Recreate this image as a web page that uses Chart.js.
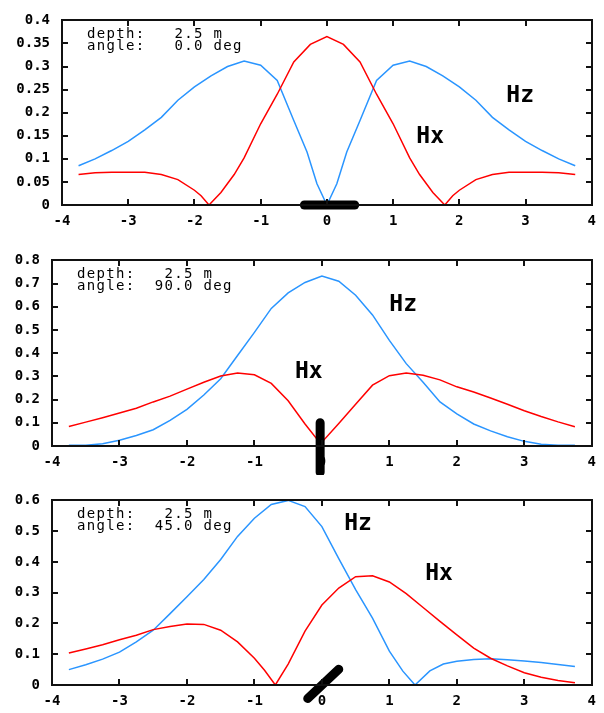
<!DOCTYPE html>
<html>
<head>
<meta charset="utf-8">
<script src="https://cdn.jsdelivr.net/npm/chart.js@4.4.1/dist/chart.umd.min.js"></script>
<style>
  html, body { margin: 0; padding: 0; background: #fff; }
  body { width: 604px; height: 713px; position: relative; overflow: hidden; }
  canvas { position: absolute; left: 0; }
</style>
</head>
<body>
<canvas id="p1" width="604" height="235" style="top:0px"></canvas>
<canvas id="p2" width="604" height="235" style="top:240px"></canvas>
<canvas id="p3" width="604" height="233" style="top:480px"></canvas>
<script>
// panel 1 — angle 0
const hxX1 = [-3.75, -3.5, -3.25, -3, -2.75, -2.5, -2.25, -2, -1.9, -1.78, -1.6, -1.4, -1.25, -1, -0.75, -0.5, -0.25, 0,
              0.25, 0.5, 0.75, 1, 1.25, 1.4, 1.6, 1.78, 1.9, 2, 2.25, 2.5, 2.75, 3, 3.25, 3.5, 3.75];
const hxY1 = [0.066, 0.070, 0.071, 0.071, 0.071, 0.066, 0.055, 0.032, 0.020, 0, 0.027, 0.066, 0.102, 0.176, 0.24, 0.31, 0.348, 0.365,
              0.348, 0.31, 0.24, 0.176, 0.102, 0.066, 0.027, 0, 0.020, 0.032, 0.055, 0.066, 0.071, 0.071, 0.071, 0.070, 0.066];
const hzX1 = [-3.75, -3.5, -3.25, -3, -2.75, -2.5, -2.25, -2, -1.75, -1.5, -1.25, -1, -0.75, -0.5, -0.3, -0.15, 0,
              0.15, 0.3, 0.5, 0.75, 1, 1.25, 1.5, 1.75, 2, 2.25, 2.5, 2.75, 3, 3.25, 3.5, 3.75];
const hzY1 = [0.085, 0.10, 0.118, 0.138, 0.163, 0.19, 0.227, 0.256, 0.28, 0.300, 0.312, 0.303, 0.27, 0.183, 0.115, 0.046, 0,
              0.046, 0.115, 0.183, 0.27, 0.303, 0.312, 0.300, 0.28, 0.256, 0.227, 0.19, 0.163, 0.138, 0.118, 0.10, 0.085];
const barX1 = [-0.34, 0.42];
const barY1 = [0, 0];

// panel 2 — angle 90
const hxX2 = [-3.75, -3.5, -3.25, -3, -2.75, -2.5, -2.25, -2, -1.75, -1.5, -1.25, -1, -0.75, -0.5, -0.25, -0.02,
              0.25, 0.5, 0.75, 1, 1.25, 1.5, 1.75, 2, 2.25, 2.5, 2.75, 3, 3.25, 3.5, 3.75];
const hxY2 = [0.084, 0.103, 0.122, 0.142, 0.163, 0.19, 0.215, 0.245, 0.275, 0.302, 0.315, 0.307, 0.27, 0.195, 0.095, 0.01,
              0.097, 0.18, 0.262, 0.303, 0.315, 0.305, 0.285, 0.255, 0.233, 0.207, 0.18, 0.152, 0.127, 0.104, 0.083];
const hzX2 = [-3.75, -3.5, -3.25, -3, -2.75, -2.5, -2.25, -2, -1.75, -1.5, -1.25, -1, -0.75, -0.5, -0.25, 0,
              0.25, 0.5, 0.75, 1, 1.25, 1.5, 1.75, 2, 2.25, 2.5, 2.75, 3, 3.25, 3.5, 3.75];
const hzY2 = [0.003, 0.003, 0.01, 0.025, 0.045, 0.07, 0.11, 0.158, 0.22, 0.29, 0.39, 0.49, 0.593, 0.66, 0.705, 0.733,
              0.71, 0.65, 0.565, 0.455, 0.355, 0.275, 0.19, 0.138, 0.095, 0.065, 0.04, 0.02, 0.008, 0.003, 0.003];
const barX2 = [-0.026, -0.026];
const barY2 = [0.10, -0.113];

// panel 3 — angle 45
const hxX3 = [-3.75, -3.5, -3.25, -3, -2.75, -2.5, -2.25, -2, -1.75, -1.5, -1.25, -1, -0.85, -0.69, -0.5, -0.25, 0,
              0.25, 0.5, 0.75, 1, 1.25, 1.5, 1.75, 2, 2.25, 2.5, 2.75, 3, 3.25, 3.5, 3.75];
const hxY3 = [0.104, 0.117, 0.131, 0.147, 0.162, 0.18, 0.19, 0.198, 0.197, 0.178, 0.14, 0.087, 0.048, 0, 0.068, 0.175, 0.26,
              0.315, 0.352, 0.355, 0.335, 0.297, 0.252, 0.207, 0.163, 0.12, 0.087, 0.062, 0.04, 0.025, 0.015, 0.007];
const hzX3 = [-3.75, -3.5, -3.25, -3, -2.75, -2.5, -2.25, -2, -1.75, -1.5, -1.25, -1, -0.75, -0.5, -0.25, 0,
              0.25, 0.5, 0.75, 1, 1.2, 1.38, 1.6, 1.8, 2, 2.25, 2.5, 2.75, 3, 3.25, 3.5, 3.75];
const hzY3 = [0.05, 0.066, 0.084, 0.107, 0.14, 0.178, 0.232, 0.287, 0.343, 0.408, 0.483, 0.542, 0.587, 0.6, 0.58, 0.515,
              0.411, 0.31, 0.217, 0.11, 0.045, 0, 0.046, 0.068, 0.077, 0.083, 0.085, 0.082, 0.078, 0.073, 0.067, 0.06];
const barX3 = [-0.21, 0.25];
const barY3 = [-0.044, 0.051];

const RED = '#ff0000';
const BLUE = '#2a95ff';
const TICK_FONT = { family: "'DejaVu Sans Mono', monospace", size: 14, weight: 'bold' };

const pts = (xs, ys) => xs.map((x, i) => ({ x: x, y: ys[i] }));

// gnuplot-style border with inward ticks on all four sides, then the text
function decorPlugin(lines, labels) {
    return {
        id: 'decor',
        afterDatasetsDraw(chart) {
            const { ctx, chartArea: a } = chart;
            const xs = chart.scales.x, ys = chart.scales.y;
            const L = Math.round(a.left), R = Math.round(a.right);
            const T = Math.round(a.top), B = Math.round(a.bottom);
            ctx.save();
            ctx.fillStyle = '#111';
            // frame
            ctx.fillRect(L - 1, T - 1, R - L + 2, 2);
            ctx.fillRect(L - 1, B - 1, R - L + 2, 2);
            ctx.fillRect(L - 1, T - 1, 2, B - T + 2);
            ctx.fillRect(R - 1, T - 1, 2, B - T + 2);
            // inward ticks
            xs.ticks.forEach(t => {
                const px = Math.round(xs.getPixelForValue(t.value));
                ctx.fillRect(px - 1, T, 2, 6);
                ctx.fillRect(px - 1, B - 6, 2, 6);
            });
            ys.ticks.forEach(t => {
                const py = Math.round(ys.getPixelForValue(t.value));
                ctx.fillRect(L, py - 1, 6, 2);
                ctx.fillRect(R - 6, py - 1, 6, 2);
            });

            ctx.fillStyle = '#000';
            ctx.font = "14px 'DejaVu Sans Mono', monospace";
            ctx.letterSpacing = '1.3px';
            ctx.textBaseline = 'middle';
            lines.forEach((l, i) => ctx.fillText(l, a.left + 25, a.top + 14 + i * 12));
            ctx.letterSpacing = '0px';
            ctx.font = "bold 23px 'DejaVu Sans Mono', monospace";
            ctx.textBaseline = 'alphabetic';
            labels.forEach(l => ctx.fillText(l.text, xs.getPixelForValue(l.x), ys.getPixelForValue(l.y)));
            ctx.restore();
        }
    };
}

function makePanel(id, p) {
    new Chart(document.getElementById(id), {
        type: 'line',
        data: {
            datasets: [
                { data: pts(p.barX, p.barY), borderColor: '#000', borderWidth: 9, borderCapStyle: 'round',
                  pointRadius: 0, clip: false, order: 0 },
                { data: pts(p.hxX, p.hxY), borderColor: RED, borderWidth: 1.5, pointRadius: 0, order: 1 },
                { data: pts(p.hzX, p.hzY), borderColor: BLUE, borderWidth: 1.5, pointRadius: 0, order: 2 }
            ]
        },
        options: {
            responsive: false,
            animation: false,
            layout: { padding: { top: p.top, right: 7, left: 0, bottom: 0 } },
            scales: {
                x: {
                    type: 'linear', min: -4, max: 4,
                    ticks: { stepSize: 1, padding: 8, color: '#000', font: TICK_FONT, maxRotation: 0 },
                    grid: { display: false, drawTicks: false },
                    border: { display: false },
                    afterFit(s) { s.height = p.xh; }
                },
                y: {
                    min: 0, max: p.ymax,
                    ticks: { stepSize: p.ystep, padding: 12, color: '#000', font: TICK_FONT,
                             callback: v => String(Math.round(v * 100) / 100) },
                    grid: { display: false, drawTicks: false },
                    border: { display: false },
                    afterFit(s) { s.width = p.yw; }
                }
            },
            plugins: { legend: { display: false }, tooltip: { enabled: false } }
        },
        plugins: [decorPlugin(p.lines, p.labels)]
    });
}

makePanel('p1', {
    hxX: hxX1, hxY: hxY1, hzX: hzX1, hzY: hzY1, barX: barX1, barY: barY1,
    ymax: 0.4, ystep: 0.05, top: 17, xh: 30, yw: 62,
    lines: ['depth:   2.5 m', 'angle:   0.0 deg'],
    labels: [{ text: 'Hz', x: 2.71, y: 0.223 }, { text: 'Hx', x: 1.35, y: 0.134 }]
});

makePanel('p2', {
    hxX: hxX2, hxY: hxY2, hzX: hzX2, hzY: hzY2, barX: barX2, barY: barY2,
    ymax: 0.8, ystep: 0.1, top: 18, xh: 29, yw: 52,
    lines: ['depth:   2.5 m', 'angle:  90.0 deg'],
    labels: [{ text: 'Hz', x: 1.0, y: 0.583 }, { text: 'Hx', x: -0.4, y: 0.294 }]
});

makePanel('p3', {
    hxX: hxX3, hxY: hxY3, hzX: hzX3, hzY: hzY3, barX: barX3, barY: barY3,
    ymax: 0.6, ystep: 0.1, top: 18, xh: 28, yw: 52,
    lines: ['depth:   2.5 m', 'angle:  45.0 deg'],
    labels: [{ text: 'Hz', x: 0.33, y: 0.503 }, { text: 'Hx', x: 1.53, y: 0.34 }]
});
</script>
</body>
</html>
